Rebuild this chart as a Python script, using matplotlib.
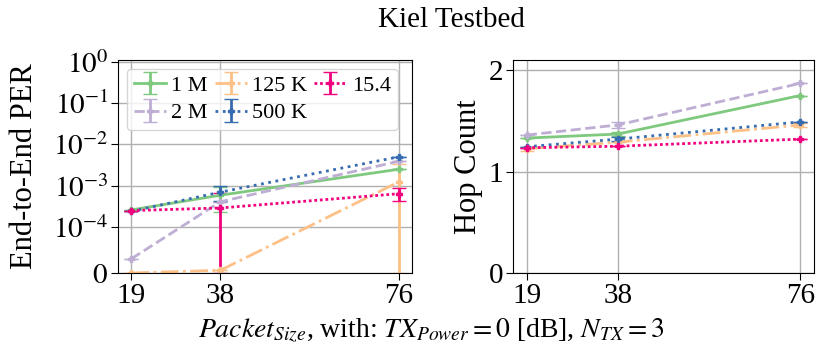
import matplotlib
matplotlib.use("Agg")
import matplotlib.pyplot as plt
import numpy as np

plt.rcParams['font.family'] = ['Liberation Serif', 'DejaVu Serif']
plt.rcParams['mathtext.fontset'] = 'stix'

packet_sizes = [19, 38, 76]
labels = ['1 M', '2 M', '125 K', '500 K', '15.4']
colors = ['#7fc97f', '#beaed4', '#fdc086', '#386cb0', '#f0027f']
styles = ['-', '--', '-.', ':', (0, (1, 1))]

per_1m = [2.6e-4, 5.9e-4, 2.5e-3]
per_2m = [3.1e-5, 4.1e-4, 3.9e-3]
per_125k = [0.0, 6e-6, 1.23e-3]
per_500k = [2.4e-4, 7.0e-4, 5.0e-3]
per_154 = [2.5e-4, 2.9e-4, 6.4e-4]

per_err_1m = [0.0, 3.6e-4, 0.0]
per_err_2m = [0.0, 0.0, 0.0]
per_err_125k = [0.0, 0.0, 2.1e-3]
per_err_500k = [0.0, 2.8e-4, 0.0]
per_err_154 = [0.0, 3.6e-4, 2.2e-4]

hop_1m = [1.33, 1.37, 1.75]
hop_2m = [1.36, 1.46, 1.87]
hop_125k = [1.225, 1.29, 1.46]
hop_500k = [1.245, 1.32, 1.49]
hop_154 = [1.235, 1.25, 1.32]

hop_err_1m = [0.0, 0.02, 0.0]
hop_err_2m = [0.0, 0.03, 0.0]
hop_err_125k = [0.02, 0.0, 0.02]
hop_err_500k = [0.0, 0.02, 0.0]
hop_err_154 = [0.0, 0.0, 0.0]

per = [per_1m, per_2m, per_125k, per_500k, per_154]
per_err = [per_err_1m, per_err_2m, per_err_125k, per_err_500k, per_err_154]
hop = [hop_1m, hop_2m, hop_125k, hop_500k, hop_154]
hop_err = [hop_err_1m, hop_err_2m, hop_err_125k, hop_err_500k, hop_err_154]

fig = plt.figure(figsize=(8.31, 3.61), dpi=100)
ax1 = fig.add_axes([118/831, 1-273/361, 294/831, 213/361])
ax2 = fig.add_axes([513/831, 1-273/361, 301/831, 213/361])

for i in range(5):
    y = np.array(per[i]); e = np.array(per_err[i])
    lower = np.minimum(e, y)
    ax1.errorbar(packet_sizes, y, yerr=[lower, e], color=colors[i], linestyle=styles[i],
                 marker='P', markersize=4, linewidth=2, capsize=5, elinewidth=2,
                 label=labels[i])
    ax2.errorbar(packet_sizes, hop[i], yerr=hop_err[i], color=colors[i], linestyle=styles[i],
                 marker='P', markersize=4, linewidth=2, capsize=5, elinewidth=2,
                 label=labels[i])

ax1.set_yscale('symlog', linthresh=1e-4, linscale=1)
ax1.set_ylim(0, 1.1)
ax1.set_yticks([0, 1e-4, 1e-3, 1e-2, 1e-1, 1e0])
ax1.set_yticklabels(['$0$', '$10^{-4}$', '$10^{-3}$', '$10^{-2}$', '$10^{-1}$', '$10^{0}$'])
ax1.minorticks_off()
ax2.set_ylim(0, 2.1)
ax2.set_yticks([0, 1, 2])

for ax in (ax1, ax2):
    ax.set_xticks(packet_sizes)
    ax.grid(True, color='#b0b0b0', linewidth=1)
    ax.set_axisbelow(True)
    ax.tick_params(labelsize=21, length=5, pad=2)

ax1.set_ylabel('End-to-End PER', fontsize=22, labelpad=10)
ax2.set_ylabel('Hop Count', fontsize=22, labelpad=4)

ax1.legend(ncol=3, loc='upper left', fontsize=16, handlelength=1.45, columnspacing=0.3,
           handletextpad=0.25, borderpad=0.3, labelspacing=0.3, borderaxespad=0.4)

fig.text(451/831, 1-20/361, 'Kiel Testbed', ha='center', va='center', fontsize=21)
fig.text(431/831, 1-330/361, r'$Packet_{Size}$, with: $TX_{Power}=0$ [dB], $N_{TX}=3$',
         ha='center', va='center', fontsize=20)

fig.savefig('out.png', dpi=100)
